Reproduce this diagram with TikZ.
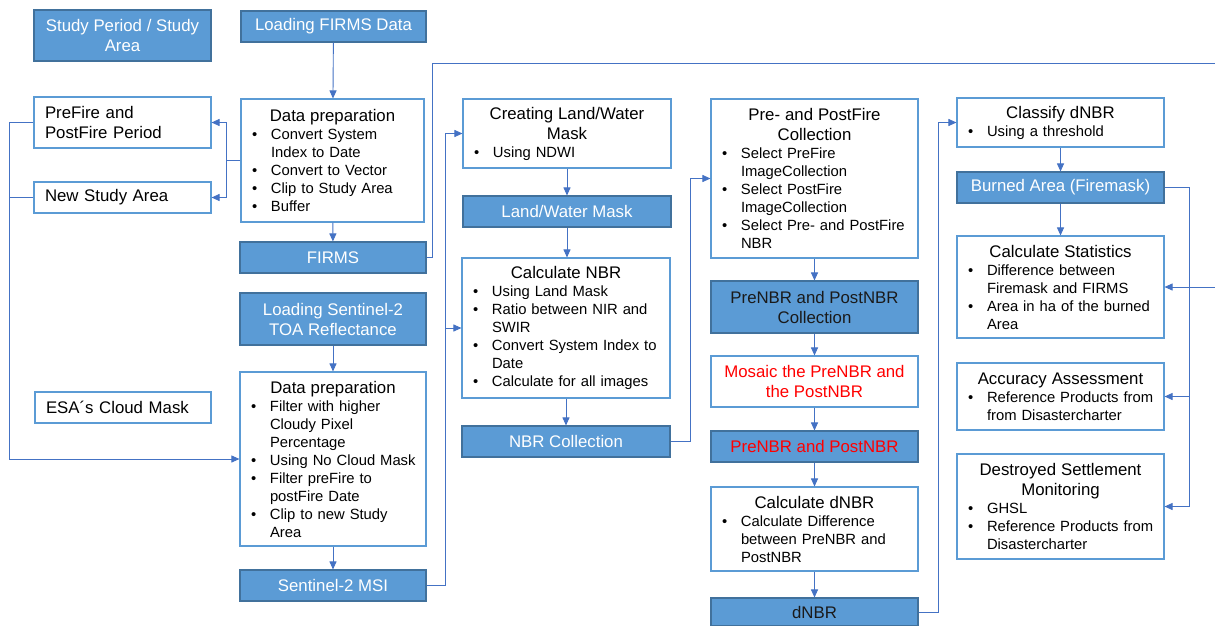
\documentclass[tikz,border=0pt]{standalone}
\usepackage{fontspec}
\setmainfont{Liberation Sans}
\usetikzlibrary{arrows.meta}

\definecolor{boxblue}{HTML}{5B9BD5}
\definecolor{boxedge}{HTML}{41719C}
\definecolor{wireblue}{HTML}{4472C4}
\definecolor{alertred}{HTML}{FF0000}
\definecolor{darktext}{HTML}{1A1A1A}

% centred heading line(s) inside a text box
\newcommand\ttl[1]{{\centering\fontsize{16.8}{20}\selectfont #1\par}}
% bullet entry with hanging indent, closed as its own paragraph
\newcommand\bitem[1]{\noindent\hangindent=24pt\hangafter=1\makebox[24pt][l]{\hspace{5pt}\textbullet}#1\par}

\tikzset{
  wbox/.style={draw=boxblue, line width=1.1pt, fill=white, inner xsep=6pt, inner ysep=2pt,
    align=left, text=black, font=\fontsize{14.8}{18}\selectfont},
  lbox/.style={wbox, inner xsep=11pt, font=\fontsize{16.8}{20}\selectfont},
  bbox/.style={draw=boxedge, line width=1.1pt, fill=boxblue, align=center, text=white,
    inner sep=2pt, font=\fontsize{16.8}{20}\selectfont},
  dim/.style 2 args={minimum width=#1pt, minimum height=#2pt},
  wire/.style={draw=wireblue, line width=0.9pt},
  arr/.style={wire, -{Triangle[length=8pt,width=7pt]}},
}

\begin{document}
\begin{tikzpicture}[x=1pt, y=-1pt]
\useasboundingbox (0,0) rectangle (1215,625);
\fill[white] (0,0) rectangle (1215,625);

% ---- column 1: study settings
\node[bbox, dim={177}{51}] (study) at (122.5,35.5) {Study Period / Study\\Area};
\node[lbox, dim={177}{51}, text width=155pt] (prefire) at (122.5,122.5) {PreFire and\\PostFire Period};
\node[lbox, dim={177}{31}, text width=155pt] (newstudy) at (122.5,197.5) {New Study Area};
\node[lbox, dim={176}{31}, text width=154pt] (esa) at (123,407.5) {ESA´s Cloud Mask};

% ---- column 2: FIRMS and Sentinel-2 input
\node[bbox, dim={185}{31}] (loadfirms) at (333.5,26.5) {Loading FIRMS Data};
\node[wbox, dim={183}{123}, text width=171pt] (prep1) at (332.5,160.5) {%
  \ttl{Data preparation}%
  \bitem{Convert System\newline Index to Date}%
  \bitem{Convert to Vector}%
  \bitem{Clip to Study Area}%
  \bitem{Buffer}};
\node[bbox, dim={186}{31}] (firms) at (333,257.5) {FIRMS};
\node[bbox, dim={186}{52}] (loads2) at (333,319) {Loading Sentinel-2\\TOA Reflectance};
\node[wbox, dim={186}{174}, text width=174pt] (prep2) at (333,459) {%
  \ttl{Data preparation}%
  \bitem{Filter with higher\newline Cloudy Pixel\newline Percentage}%
  \bitem{Using No Cloud Mask}%
  \bitem{Filter preFire to\newline postFire Date}%
  \bitem{Clip to new Study\newline Area}};
\node[bbox, dim={186}{31}] (s2msi) at (333,585.5) {Sentinel-2 MSI};

% ---- column 3: masks and NBR
\node[wbox, dim={208}{69}, text width=196pt] (creating) at (567,133.5) {%
  \ttl{Creating Land/Water\\Mask}%
  \bitem{Using NDWI}};
\node[bbox, dim={208}{31}] (lwmask) at (567,211.5) {Land/Water Mask};
\node[wbox, dim={208}{140}, text width=196pt] (calcnbr) at (566,328) {%
  \ttl{Calculate NBR}%
  \bitem{Using Land Mask}%
  \bitem{Ratio between NIR and\newline SWIR}%
  \bitem{Convert System Index to\newline Date}%
  \bitem{Calculate for all images}};
\node[bbox, dim={208}{31}] (nbrcol) at (566,441.5) {NBR Collection};

% ---- column 4: pre/post fire and dNBR
\node[wbox, dim={207}{159}, text width=195pt] (prepost) at (814.5,178.5) {%
  \ttl{Pre- and PostFire\\Collection}%
  \bitem{Select PreFire\newline ImageCollection}%
  \bitem{Select PostFire\newline ImageCollection}%
  \bitem{Select Pre- and PostFire\newline NBR}};
\node[bbox, dim={207}{52}, text=darktext] (prenbrcol) at (814.5,307) {PreNBR and PostNBR\\Collection};
\node[wbox, dim={207}{51}, align=center, text=alertred, font=\fontsize{16.8}{20}\selectfont] (mosaic) at (814.5,381.5) {Mosaic the PreNBR and\\the PostNBR};
\node[bbox, dim={207}{31}, text=alertred] (prenbr) at (814.5,446.5) {PreNBR and PostNBR};
\node[wbox, dim={207}{84}, text width=195pt] (calcdnbr) at (814.5,529) {%
  \ttl{Calculate dNBR}%
  \bitem{Calculate Difference\newline between PreNBR and\newline PostNBR}};
\node[bbox, dim={207}{28}, text=darktext] (dnbr) at (814.5,612) {dNBR};

% ---- column 5: classification and evaluation
\node[wbox, dim={207}{49}, text width=195pt] (classify) at (1060.5,122.5) {%
  \ttl{Classify dNBR}%
  \bitem{Using a threshold}};
\node[bbox, dim={207}{31}] (burned) at (1060.5,187.5) {Burned Area (Firemask)};
\node[wbox, dim={207}{102}, text width=195pt] (calcstats) at (1060.5,287) {%
  \ttl{Calculate Statistics}%
  \bitem{Difference between\newline Firemask and FIRMS}%
  \bitem{Area in ha of the burned\newline Area}};
\node[wbox, dim={207}{67}, text width=195pt] (accuracy) at (1060.5,396.5) {%
  \ttl{Accuracy Assessment}%
  \bitem{Reference Products from\newline from Disastercharter}};
\node[wbox, dim={207}{105}, text width=195pt] (destroyed) at (1060.5,506.5) {%
  \ttl{Destroyed Settlement\\Monitoring}%
  \bitem{GHSL}%
  \bitem{Reference Products from\newline Disastercharter}};

% ---- routing points
\coordinate (fork1) at (226,160.5);
\coordinate (leftrail) at (9,122.5);
\coordinate (toprail) at (432,63);
\coordinate (topright) at (1222,63);
\coordinate (s2rail) at (445,133.5);
\coordinate (nbrrail) at (690,178.5);
\coordinate (dnbrrail) at (938,122.5);
\coordinate (burnrail) at (1189,187.5);

% ---- connectors
\draw[arr] (loadfirms) -- (prep1);
\draw[arr] (prep1.west) -- (fork1) |- (prefire.east);
\draw[arr] (fork1) |- (newstudy.east);
\draw[arr] (prefire.west) -- (leftrail) |- (prep2.west);
\draw[wire] (newstudy.west) -- (newstudy.west -| leftrail);
\draw[arr] (prep1) -- (firms);
\draw[arr] (firms.east) -| (toprail) -- (topright) |- (calcstats.east);
\draw[arr] (loads2) -- (prep2);
\draw[arr] (prep2) -- (s2msi);
\draw[arr] (s2msi.east) -| (s2rail) -- (creating.west);
\draw[arr] (calcnbr.west -| s2rail) -- (calcnbr.west);
\draw[arr] (creating.south -| lwmask.north) -- (lwmask.north);
\draw[arr] (lwmask.south) -- (lwmask.south |- calcnbr.north);
\draw[arr] (calcnbr) -- (nbrcol);
\draw[arr] (nbrcol.east) -| (nbrrail) -- (prepost.west);
\draw[arr] (prepost) -- (prenbrcol);
\draw[arr] (prenbrcol) -- (mosaic);
\draw[arr] (mosaic) -- (prenbr);
\draw[arr] (prenbr) -- (calcdnbr);
\draw[arr] (calcdnbr) -- (dnbr);
\draw[arr] (dnbr.east) -| (dnbrrail) -- (classify.west);
\draw[arr] (classify) -- (burned);
\draw[arr] (burned) -- (calcstats);
\draw[arr] (burned.east) -- (burnrail) |- (destroyed.east);
\draw[arr] (accuracy.east -| burnrail) -- (accuracy.east);
\end{tikzpicture}
\end{document}
